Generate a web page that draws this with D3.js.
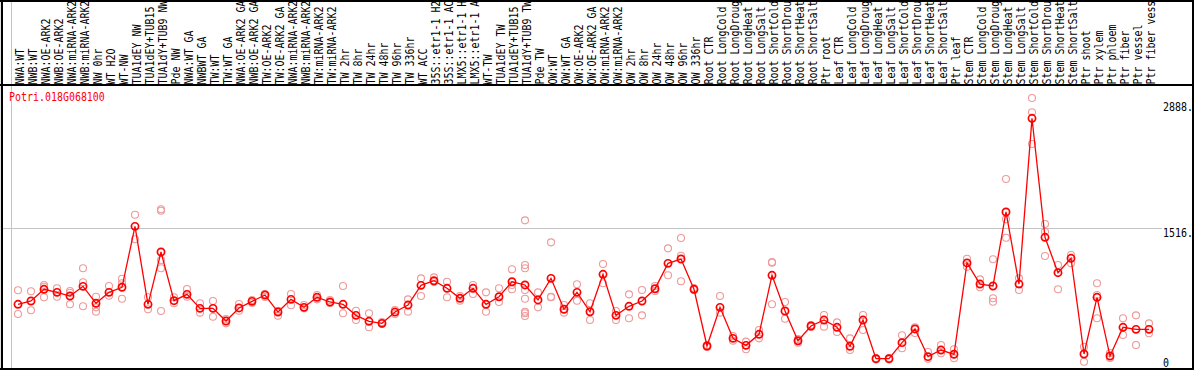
<!DOCTYPE html>
<html lang="en">
<head>
<meta charset="UTF-8">
<title>Potri.018G068100</title>
<script src="https://d3js.org/d3.v7.min.js"></script>
<style>
    body { margin: 0; background: #fff; }
    text { font-family: "DejaVu Sans Mono", monospace; font-size: 12px; }
</style>
</head>
<body>
<div id="chart"></div>
<script>
// sample names (column headers)
const labels = [
    "NWA:WT", "NWB:WT", "NWA:OE-ARK2", "NWB:OE-ARK2", "NWA:miRNA-ARK2", "NWB:miRNA-ARK2",
    "NW 0hr", "WT H2O", "WT-NW", "TUA1dEY NW", "TUA1dEY+TUB15 NW", "TUA1dY+TUB9 NW", "Pde NW",
    "NWA:WT GA", "NWBWT GA", "TW:WT", "TW:WT GA", "NWA:OE-ARK2 GA", "NWB:OE-ARK2 GA",
    "TW:OE-ARK2", "TW:OE-ARK2 GA", "NWA:miRNA-ARK2 GA", "NWB:miRNA-ARK2 GA", "TW:miRNA-ARK2",
    "TW:miRNA-ARK2 GA", "TW 2hr", "TW 8hr", "TW 24hr", "TW 48hr", "TW 96hr", "TW 336hr",
    "WT ACC", "35S::etr1-1 H2O", "35S::etr1-1 ACC", "LMX5::etr1-1 H2O", "LMX5::etr1-1 ACC",
    "WT-TW", "TUA1dEY TW", "TUA1dEY+TUB15 TW", "TUA1dY+TUB9 TW", "Pde TW",
    "OW:WT", "OW:WT GA", "OW:OE-ARK2", "OW:OE-ARK2 GA", "OW:miRNA-ARK2", "OW:miRNA-ARK2 GA",
    "OW 2hr", "OW 8hr", "OW 24hr", "OW 48hr", "OW 96hr", "OW 336hr",
    "Root CTR", "Root LongCold", "Root LongDrought", "Root LongHeat", "Root LongSalt",
    "Root ShortCold", "Root ShortDrought", "Root ShortHeat", "Root ShortSalt", "Ptr root",
    "Leaf CTR", "Leaf LongCold", "Leaf LongDrought", "Leaf LongHeat", "Leaf LongSalt",
    "Leaf ShortCold", "Leaf ShortDrought", "Leaf ShortHeat", "Leaf ShortSalt", "Ptr leaf",
    "Stem CTR", "Stem LongCold", "Stem LongDrought", "Stem LongHeat", "Stem LongSalt",
    "Stem ShortCold", "Stem ShortDrought", "Stem ShortHeat", "Stem ShortSalt", "Ptr shoot", "Ptr xylem",
    "Ptr phloem", "Ptr fiber", "Ptr vessel", "Ptr fiber vessel"
];

// number of columns in each experiment block
const groupSizes = [13, 28, 12, 10, 10, 11, 1, 1, 1, 1];

// mean expression per sample
const means = [
    690, 726, 853, 820, 780, 885, 701, 820, 875, 1537, 690, 1258, 729,
    798, 646, 646, 508, 650, 722, 791, 606, 744, 657, 766, 715, 690, 570, 505, 483, 606, 682,
    896, 946, 864, 755, 864, 690, 772, 935, 900, 737,
    972, 636, 820, 609, 1016, 570, 668, 726, 859, 1135, 1182, 853,
    237, 657, 320, 244, 364, 1005, 617, 294, 454, 519,
    440, 234, 519, 99, 99, 273, 422, 121, 193, 147,
    1139, 910, 889, 1693, 910, 2711, 1418, 1033, 1190, 150, 766,
    128, 440, 418, 418
];

// individual replicates per sample
const reps = [
    [842, 584], [831, 625], [900, 766, 881], [864, 772], [834, 816, 690], [1081, 929, 668],
    [772, 657, 609], [889, 783], [968, 918, 751], [1663, 1396], [766, 636],
    [1722, 1707, 1171, 1081, 617], [766, 701],
    [856, 772], [701, 599], [726, 555], [483, 530], [693, 620], [737, 704], [802, 769],
    [620, 566], [802, 679], [646, 682], [791, 744], [737, 704], [889, 592], [620, 519],
    [592, 440], [498, 476], [628, 584], [744, 609], [972, 780], [983, 932], [935, 766],
    [780, 729], [900, 802], [820, 609], [864, 715], [1070, 853, 900],
    [1602, 1117, 1081, 845, 751, 609, 592, 563], [820, 657],
    [1363, 772, 766], [682, 599], [907, 729], [701, 519], [1128, 918], [617, 519],
    [798, 538], [845, 570], [889, 834], [1298, 1005], [1410, 1218, 940], [845, 867],
    [248, 226], [780, 599], [294, 345], [284, 201], [411, 320], [1149, 1142, 690],
    [715, 533], [273, 313], [465, 443], [574, 447],
    [494, 389], [320, 193], [574, 411], [106, 90], [106, 90], [353, 212], [440, 378],
    [172, 99], [248, 158], [201, 103],
    [1185, 1098], [961, 875], [1179, 755, 718], [2051, 1613, 1413], [972, 845],
    [2931, 2776, 2431], [1562, 1479, 1215], [1117, 853], [1225, 1135], [229, 66], [918, 791, 538],
    [161, 106], [538, 356], [570, 248], [483, 375]
];

const tickValues = [0, 1516, 2888];
const geneName = "Potri.018G068100";

const width = 1194, height = 370;
const headerBottom = 85, plotBottom = 369;
const maxChars = 14; // header cells only show this many characters
const red = "#ff0000", pink = "#ee9a9a", grid = "#c4c4c4";

const svg = d3.select("#chart").append("svg")
    .attr("width", width)
    .attr("height", height);

const x = d3.scaleBand()
    .domain(d3.range(labels.length))
    .range([11.5, 11.5 + 13 * labels.length]);
const cx = i => x(i) + x.bandwidth() / 2;

const y = d3.scaleLinear()
    .domain([0, 2888])
    .range([367.8, 102]);

// block separators
const bounds = [0].concat(d3.cumsum(groupSizes));
const bx = b => b < labels.length ? x(b) : x(b - 1) + x.step();
svg.selectAll(".vgrid")
    .data(bounds)
    .join("line")
    .attr("x1", bx)
    .attr("x2", bx)
    .attr("y1", 0)
    .attr("y2", plotBottom)
    .attr("stroke", grid);

// middle gridline
svg.append("line")
    .attr("x1", 2).attr("x2", 1162)
    .attr("y1", Math.round(y(1516)) + 0.5)
    .attr("y2", Math.round(y(1516)) + 0.5)
    .attr("stroke", grid);

// frame
const frame = [
    [2, 0, 2, plotBottom + 1], [0, 1, width, 1], [0, headerBottom, width, headerBottom],
    [0, plotBottom, width, plotBottom], [1193, 0, 1193, height]
];
svg.selectAll(".frame")
    .data(frame)
    .join("line")
    .attr("x1", d => d[0]).attr("y1", d => d[1])
    .attr("x2", d => d[2]).attr("y2", d => d[3])
    .attr("stroke", "#000")
    .attr("stroke-width", 2);

// column headers (cut to what fits in the header cell)
svg.selectAll(".lab")
    .data(labels)
    .join("text")
    .attr("transform", (d, i) => `translate(${cx(i) + 5.5},84.5) rotate(-90) scale(0.83,1)`)
    .attr("fill", "#000")
    .text(d => d.slice(0, maxChars));

// gene name
svg.append("text")
    .attr("transform", "translate(9,101) scale(0.83,1)")
    .attr("fill", red)
    .text(geneName);

// right axis labels
svg.selectAll(".tick")
    .data(tickValues)
    .join("text")
    .attr("transform", v => `translate(1163,${Math.min(y(v) + 9, 366.5)}) scale(0.83,1)`)
    .attr("fill", "#000")
    .text(v => v === 0 ? "0" : v + ".");

// replicates
const repPts = reps.flatMap((r, i) => r.map(v => ({ i, v })));
svg.selectAll(".rep")
    .data(repPts)
    .join("circle")
    .attr("cx", d => cx(d.i))
    .attr("cy", d => y(d.v))
    .attr("r", 3.5)
    .attr("fill", "none")
    .attr("stroke", pink)
    .attr("stroke-width", 1.1);

// mean line
svg.append("path")
    .datum(means)
    .attr("d", d3.line().x((d, i) => cx(i)).y(d => y(d)))
    .attr("fill", "none")
    .attr("stroke", red)
    .attr("stroke-width", 1.3);

svg.selectAll(".mean")
    .data(means)
    .join("circle")
    .attr("cx", (d, i) => cx(i))
    .attr("cy", d => y(d))
    .attr("r", 3.6)
    .attr("fill", "none")
    .attr("stroke", red)
    .attr("stroke-width", 1.7);
</script>
</body>
</html>
